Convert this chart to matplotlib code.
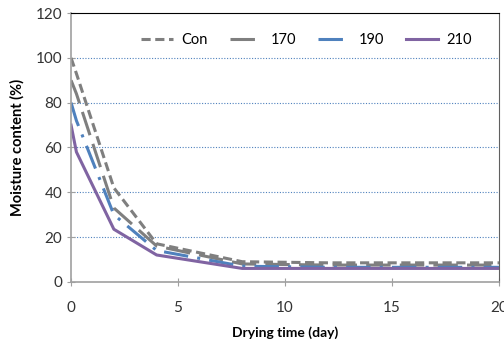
import matplotlib
matplotlib.use('Agg')
import matplotlib.pyplot as plt

plt.rcParams['font.family'] = ['Lato', 'DejaVu Sans']

# Données
days = [0, 0.25, 2, 4, 8, 12, 16, 20]
series_names = ['Con', '170', '190', '210']
con = [100, 93, 42, 17, 9, 8.5, 8.5, 8.5]
t170 = [90, 84, 33, 16, 8, 7.5, 7.5, 7.5]
t190 = [80, 72, 30, 14, 7, 6.5, 6.5, 6.5]
t210 = [70, 58, 23.5, 12, 6, 6, 6, 6]

yticks = [0, 20, 40, 60, 80, 100, 120]
xticks = [0, 5, 10, 15, 20]

fig = plt.figure(figsize=(5.04, 3.45), dpi=100)
ax = fig.add_axes([0.141, 0.183, 0.849, 0.779])

ax.plot(days, con, color='#7f7f7f', lw=2.2, linestyle=(0, (3, 1.5)), label=series_names[0])
ax.plot(days, t170, color='#7f7f7f', lw=2.2, linestyle=(0, (8, 3)), label=series_names[1])
ax.plot(days, t190, color='#4f81bd', lw=2.2, linestyle=(0, (8, 3, 1, 3)), label=series_names[2])
ax.plot(days, t210, color='#8064a2', lw=2.2, linestyle='-', label=series_names[3])

ax.set_xlim(0, 20)
ax.set_ylim(0, 120)
ax.set_xticks(xticks)
ax.set_yticks(yticks)

for y in yticks[1:-1]:
    ax.axhline(y, color='#4f81bd', lw=0.8, linestyle=(0, (1, 1.5)), zorder=0)

for side in ['left', 'bottom']:
    ax.spines[side].set_color('#a0a0a0')
    ax.spines[side].set_linewidth(1.2)
ax.spines['top'].set_color('black')
ax.spines['right'].set_color('#606060')
ax.tick_params(axis='both', direction='inout', length=6, color='#a0a0a0',
               labelsize=11, labelcolor='#333333')
ax.tick_params(axis='x', pad=11)

ax.set_xlabel('Drying time (day)', fontsize=10, fontweight='bold', labelpad=8)
ax.set_ylabel('Moisture content (%)', fontsize=10.5, fontweight='bold', labelpad=8)

ax.legend(loc='upper center', bbox_to_anchor=(0.55, 0.975), ncol=4, frameon=False,
          fontsize=10.5, handlelength=2.2, columnspacing=1.5, handletextpad=0.6)

fig.savefig('out.png', dpi=100)
